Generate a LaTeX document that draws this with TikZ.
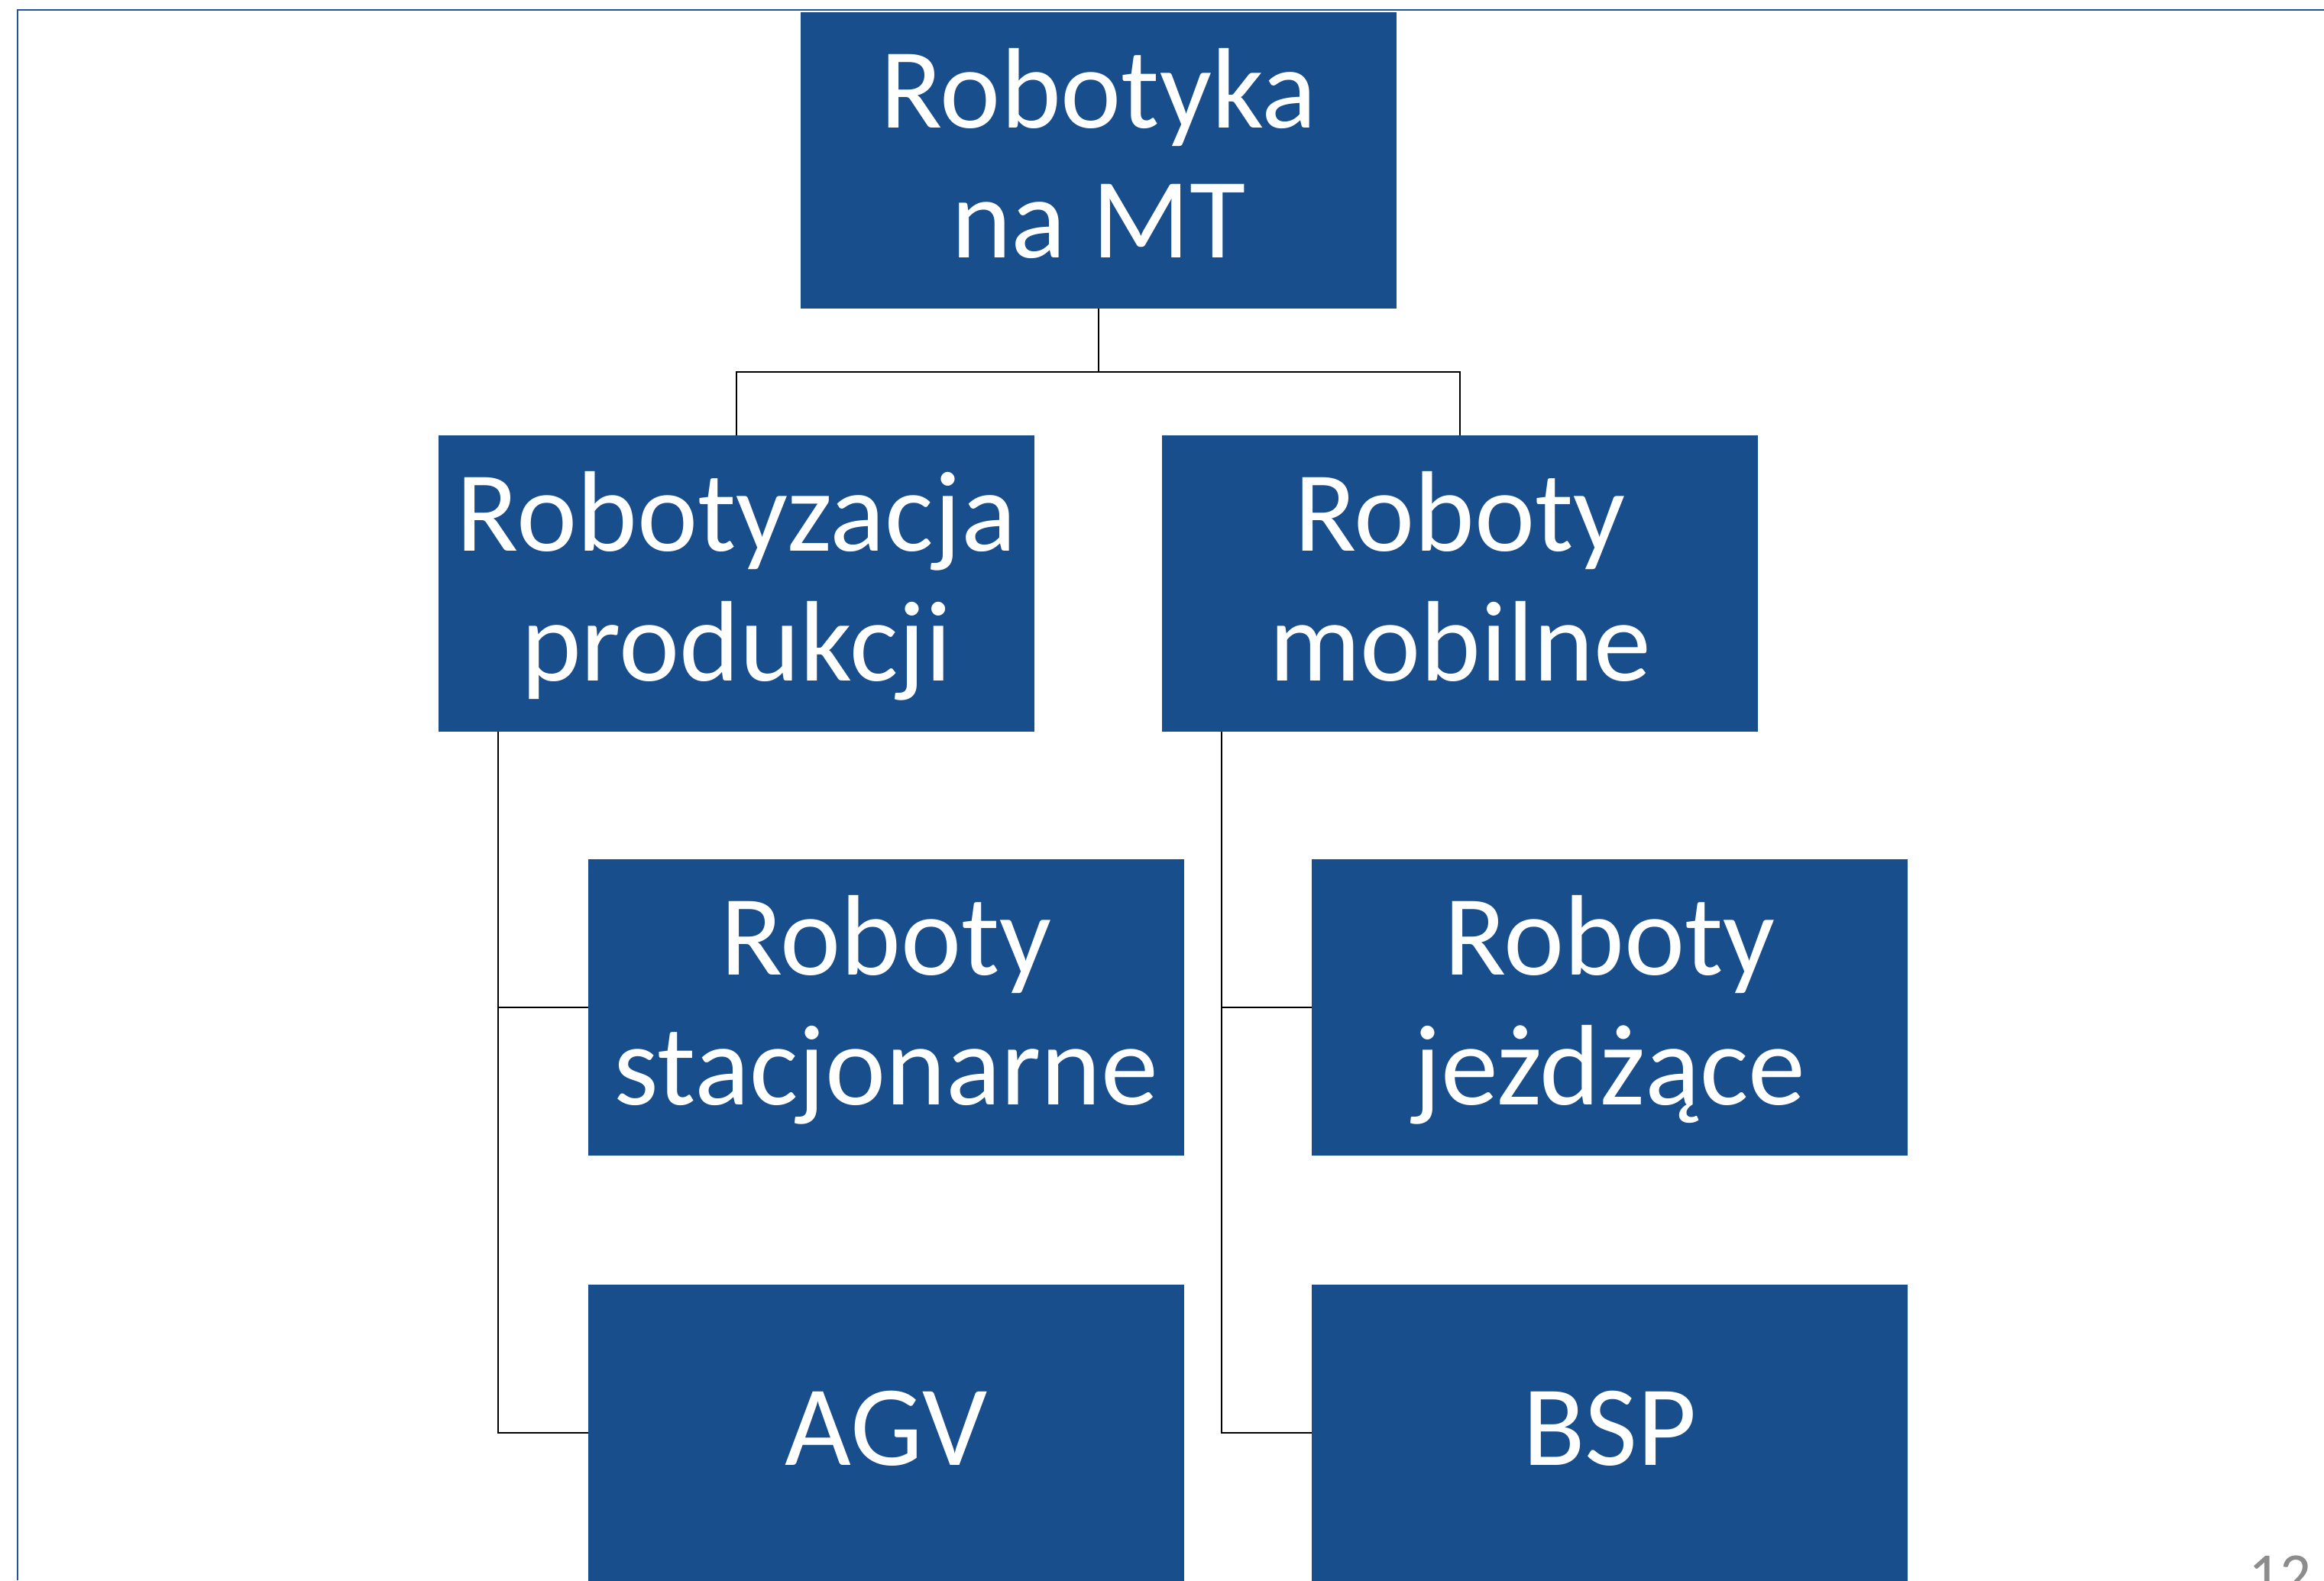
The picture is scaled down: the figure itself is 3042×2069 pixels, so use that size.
\documentclass[tikz,border=0pt]{standalone}
\usepackage{fontspec}
\setmainfont{Carlito}
\usetikzlibrary{calc}
\definecolor{boxblue}{RGB}{24,78,140}
\definecolor{frameblue}{RGB}{36,84,150}
\definecolor{pagegray}{RGB}{140,140,140}
% fixed line box so one- and two-line labels sit the same way in their boxes
\newcommand\boxstrut{\rule[-17.5pt]{0pt}{77.5pt}}
\begin{document}
\begin{tikzpicture}[x=0.5pt,y=-0.5pt,
  orgbox/.style={fill=boxblue, text=white, minimum width=390pt, minimum height=194pt,
    inner sep=0pt, align=center, font=\fontsize{75}{85}\selectfont},
  link/.style={draw=black, line width=1pt}]
\useasboundingbox (0,0) rectangle (3042,2069);
\clip (0,0) rectangle (3042,2069);
\fill[white] (0,0) rectangle (3042,2069);
% slide frame
\draw[frameblue, line width=1pt] (23,2069) -- (23,12.5) -- (3042,12.5);

% boxes
\node[orgbox] (root) at (1438,209.5) {\boxstrut Robotyka\\\boxstrut na MT};
\node[orgbox] (prod) at (964,764) {\boxstrut Robotyzacja\\\boxstrut produkcji};
\node[orgbox] (mob)  at (1911,764) {\boxstrut Roboty\\\boxstrut mobilne};
\node[orgbox] (stat) at (1160,1319) {\boxstrut Roboty\\\boxstrut stacjonarne};
\node[orgbox] (agv)  at (1160,1876) {\boxstrut AGV};
\node[orgbox] (jezd) at (2107,1319) {\boxstrut Roboty\\\boxstrut jeżdżące};
\node[orgbox] (bsp)  at (2107,1876) {\boxstrut BSP};

% root to second level
\coordinate (fork) at ($(root.south)!0.5!(root.south |- prod.north)$);
\draw[link] (root.south) -- (fork);
\draw[link] (fork) -| (prod.north);
\draw[link] (fork) -| (mob.north);

% second level to their children
\coordinate (prodtrunk) at ($(prod.south west)+(78,0)$);
\draw[link] (prodtrunk) |- (agv.west);
\draw[link] (prodtrunk |- stat.west) -- (stat.west);
\coordinate (mobtrunk) at ($(mob.south west)+(78,0)$);
\draw[link] (mobtrunk) |- (bsp.west);
\draw[link] (mobtrunk |- jezd.west) -- (jezd.west);

% page number
\node[anchor=base east, inner sep=0pt, text=pagegray, font=\fontsize{40.5}{48}\selectfont] (pagenum) at (3026,2089) {12};
\end{tikzpicture}
\end{document}
